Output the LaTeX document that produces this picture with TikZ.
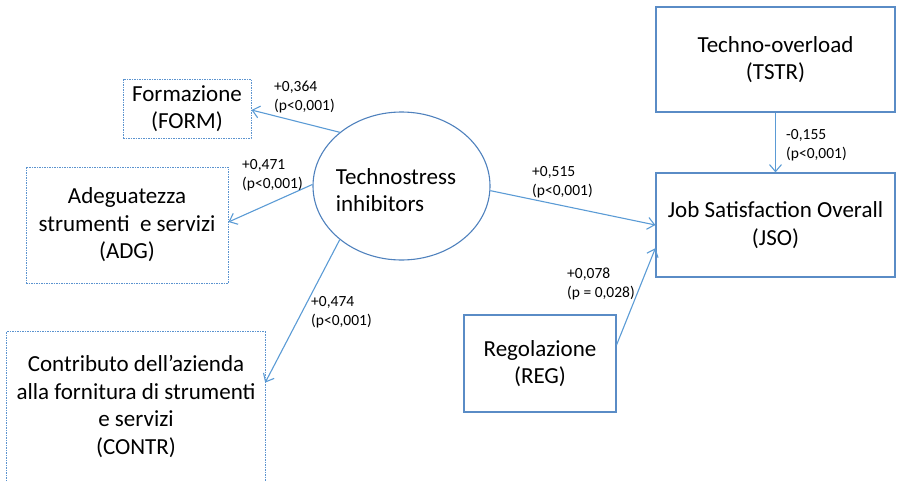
\documentclass[tikz,border=0pt]{standalone}
\usepackage{fontspec}
\setmainfont{Carlito}
\usetikzlibrary{arrows.meta,shapes.geometric,calc}
\definecolor{boxblue}{HTML}{5A8CC6}
\definecolor{ellblue}{HTML}{4F81BD}
\definecolor{arrblue}{HTML}{5B9BD5}
\definecolor{dotblue}{HTML}{5B93CF}
\newcommand\mybigfont{\fontsize{23}{27.5}\selectfont}
\newcommand\mysmallfont{\fontsize{15.5}{19}\selectfont}
\begin{document}
\begin{tikzpicture}[x=1pt,y=-1pt,
  solidbox/.style={draw=boxblue, line width=1.2pt, inner sep=0pt, align=center, font=\mybigfont},
  dotline/.style={draw=dotblue, line width=1pt, dash pattern=on 1.5pt off 1pt},
  dotbox/.style={dotline, inner sep=0pt, align=center, font=\mybigfont},
  link/.style={draw=arrblue, line width=1.1pt, -{Straight Barb[length=7pt,width=12pt]}},
  coef/.style={anchor=west, inner sep=0pt, align=left, font=\mysmallfont},
]
\useasboundingbox (0,0) rectangle (897,482);

% dotted boxes
\node[dotbox, minimum width=128pt, minimum height=59pt] (form) at (187,108.5) {Formazione\\(FORM)};
\node[dotbox, minimum width=202pt, minimum height=116pt] (adg) at (127,225) {Adeguatezza\\strumenti \ e servizi\\(ADG)};
\node[inner sep=0pt, align=center, font=\mybigfont, minimum width=258pt, minimum height=149pt] (contr) at (136,406.5) {Contributo dell’azienda\\alla fornitura di strumenti\\e servizi\\(CONTR)};
\draw[dotline] (contr.south west) -- (contr.north west) -- (contr.north east) -- (contr.south east);

% ellipse
\node[draw=ellblue, line width=1.1pt, ellipse, inner sep=0pt, minimum width=177pt, minimum height=148pt] (ell) at (401.5,186) {};
\node[inner sep=0pt, align=left, font=\mybigfont] (elltext) at (396,190) {Technostress\\inhibitors};

% solid boxes
\node[solidbox, minimum width=239pt, minimum height=105pt] (tstr) at (775.5,59.5) {Techno-overload\\(TSTR)};
\node[solidbox, minimum width=239pt, minimum height=104pt] (jso) at (775.5,225) {Job Satisfaction Overall\\(JSO)};
\node[solidbox, minimum width=152pt, minimum height=97pt] (reg) at (540,363.5) {Regolazione\\(REG)};

% arrows
\draw[link] (ell.139) -- ($(form.east)+(0,1.5)$);
\draw[link] (ell.179) -- ($(adg.east)+(0,-3)$);
\draw[link] (ell.221) -- ($(contr.north east)!0.34!(contr.south east)$);
\draw[link] (ell.-3) -- (jso.west);
\draw[link] (tstr.south) -- (jso.north);
\draw[link] ($(reg.north east)!0.31!(reg.south east)$) -- ($(jso.north west)!0.72!(jso.south west)$);

% coefficients
\node[coef] (l1) at (274,97.5) {+0,364\\(p<0,001)};
\node[coef] (l2) at (242,175) {+0,471\\(p<0,001)};
\node[coef] (l3) at (311,312) {+0,474\\(p<0,001)};
\node[coef] (l4) at (532,182) {+0,515\\(p<0,001)};
\node[coef] (l5) at (786,145) {-0,155\\(p<0,001)};
\node[coef] (l6) at (567,284) {+0,078\\(p = 0,028)};
\end{tikzpicture}
\end{document}
